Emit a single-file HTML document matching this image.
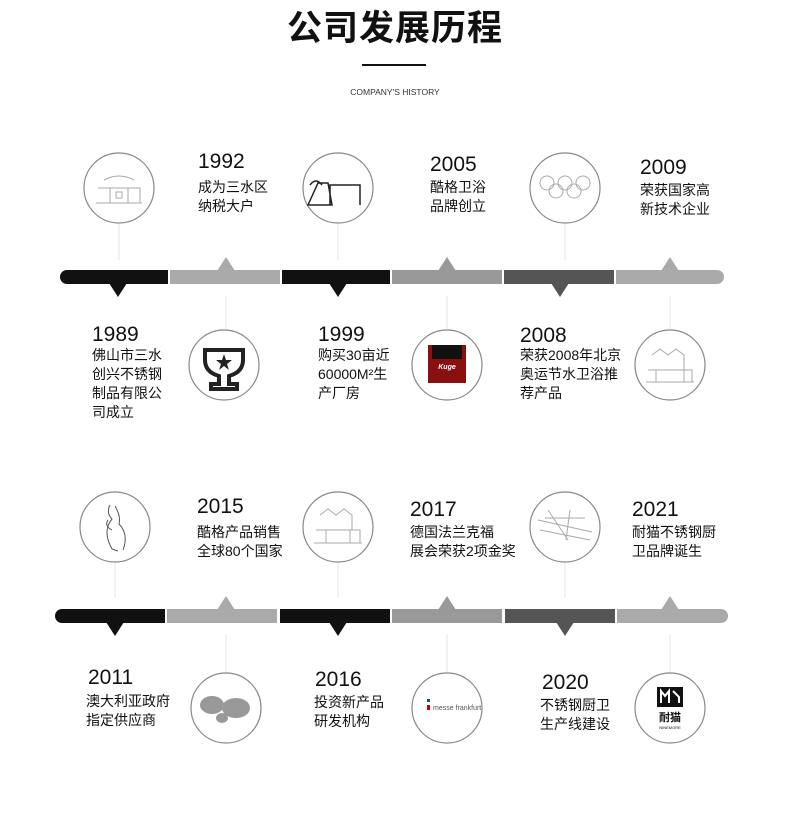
<!DOCTYPE html>
<html><head><meta charset="utf-8">
<style>
html,body{margin:0;padding:0;background:#fff;}
body{width:790px;height:820px;position:relative;overflow:hidden;font-family:"Liberation Sans","Noto Sans CJK SC",sans-serif;color:#111;}
.t{position:absolute;white-space:nowrap;}
.y{font-size:21px;line-height:22px;color:#111;}
.d{font-size:14px;line-height:19px;color:#111;}
</style></head><body>
<div class="t" style="left:0;width:790px;top:8px;text-align:center;font-size:35px;font-weight:bold;line-height:42px;letter-spacing:1px;">公司发展历程</div>
<div style="position:absolute;left:362px;top:64px;width:64px;height:2px;background:#111;"></div>
<div class="t" style="left:0;width:790px;top:87px;text-align:center;font-size:8.5px;color:#333;">COMPANY'S HISTORY</div>

<svg width="790" height="820" style="position:absolute;left:0;top:0" xmlns="http://www.w3.org/2000/svg">
<g stroke="#e4e4e4" stroke-width="1">
<line x1="119" y1="224" x2="119" y2="260"/><line x1="338" y1="224" x2="338" y2="260"/><line x1="565" y1="224" x2="565" y2="260"/>
<line x1="226" y1="296" x2="226" y2="329"/><line x1="447" y1="296" x2="447" y2="329"/><line x1="670" y1="296" x2="670" y2="329"/>
<line x1="115" y1="563" x2="115" y2="598"/><line x1="338" y1="563" x2="338" y2="598"/><line x1="565" y1="563" x2="565" y2="598"/>
<line x1="226" y1="634" x2="226" y2="672"/><line x1="447" y1="634" x2="447" y2="672"/><line x1="670" y1="634" x2="670" y2="672"/>
</g>
<!-- timeline 1 -->
<rect x="60" y="270" width="20" height="14" rx="7" fill="#111"/>
<rect x="68" y="270" width="100" height="14" fill="#111"/>
<rect x="170" y="270" width="110" height="14" fill="#aaa"/>
<rect x="282" y="270" width="108" height="14" fill="#111"/>
<rect x="392" y="270" width="110" height="14" fill="#999"/>
<rect x="504" y="270" width="110" height="14" fill="#555"/>
<rect x="616" y="270" width="100" height="14" fill="#aaa"/>
<rect x="710" y="270" width="14" height="14" rx="7" fill="#aaa"/>
<polygon points="109,283 127,283 118,297" fill="#111"/>
<polygon points="217,271 235,271 226,257" fill="#aaa"/>
<polygon points="329,283 347,283 338,297" fill="#111"/>
<polygon points="438,271 456,271 447,257" fill="#999"/>
<polygon points="551,283 569,283 560,297" fill="#555"/>
<polygon points="661,271 679,271 670,257" fill="#aaa"/>
<!-- timeline 2 -->
<rect x="55" y="609" width="20" height="14" rx="7" fill="#111"/>
<rect x="63" y="609" width="102" height="14" fill="#111"/>
<rect x="167" y="609" width="110" height="14" fill="#aaa"/>
<rect x="280" y="609" width="110" height="14" fill="#111"/>
<rect x="392" y="609" width="110" height="14" fill="#999"/>
<rect x="505" y="609" width="110" height="14" fill="#555"/>
<rect x="617" y="609" width="104" height="14" fill="#aaa"/>
<rect x="714" y="609" width="14" height="14" rx="7" fill="#aaa"/>
<polygon points="106,622 124,622 115,636" fill="#111"/>
<polygon points="217,610 235,610 226,596" fill="#aaa"/>
<polygon points="329,622 347,622 338,636" fill="#111"/>
<polygon points="438,610 456,610 447,596" fill="#999"/>
<polygon points="556,622 574,622 565,636" fill="#555"/>
<polygon points="661,610 679,610 670,596" fill="#aaa"/>

<g fill="none" stroke="#888" stroke-width="1.2">
<circle cx="119" cy="188" r="35"/><circle cx="338" cy="188" r="35"/><circle cx="565" cy="188" r="35"/>
<circle cx="224" cy="365" r="35"/><circle cx="447" cy="365" r="35"/><circle cx="670" cy="365" r="35"/>
<circle cx="115" cy="527" r="35"/><circle cx="338" cy="527" r="35"/><circle cx="565" cy="527" r="35"/>
<circle cx="226" cy="708" r="35"/><circle cx="447" cy="708" r="35"/><circle cx="670" cy="708" r="35"/>
</g>
<!-- icons -->
<g stroke="#aaa" fill="none" stroke-width="1">
<path d="M96 203 h46 M98 188 h42 v15 M104 180 q15 -8 30 0 M110 188 v15 M128 188 v15 M116 192 h6 v6 h-6z"/>
<path d="M308 205 l10 -22 h10 l4 22 z M330 205 v-20 h30 v20 M310 185 q6 -8 12 0" stroke="#222" stroke-width="1.5"/>
<circle cx="547" cy="183" r="7"/><circle cx="565" cy="183" r="7"/><circle cx="583" cy="183" r="7"/><circle cx="556" cy="191" r="7"/><circle cx="574" cy="191" r="7"/>
<path d="M646 382 h48 M648 370 h44 v12 M652 355 l8 -6 l8 6 l8 -6 l8 6 v15 M656 370 v12 M684 370 v12"/>
<path d="M110 505 q-4 8 2 14 q-10 12 0 30 l6 2 M115 506 q6 10 4 18 q10 10 4 26 M108 520 q-4 6 4 10" stroke="#555"/>
<path d="M314 543 h48 M316 530 h44 v13 M320 515 l8 -6 l8 6 l8 -6 l8 6 v15 M326 530 v13 M350 530 v13"/>
<path d="M538 520 l54 12 M540 530 l50 10 M548 510 l20 30 M570 510 l-4 30 M545 518 h40"/>
</g>
<path d="M205 350 h38 v10 q0 12 -14 16 v8 h8 v5 h-26 v-5 h8 v-8 q-14 -4 -14 -16z" fill="none" stroke="#222" stroke-width="4"/>
<polygon points="224,354 226,360 232,360 227,364 229,370 224,366 219,370 221,364 216,360 222,360" fill="#222"/>
<rect x="428" y="345" width="38" height="38" fill="#8a1010"/>
<rect x="432" y="345" width="30" height="14" fill="#111"/>
<text x="447" y="369" font-size="7" fill="#fff" text-anchor="middle" font-style="italic" font-weight="bold" font-family="Liberation Sans">Kuge</text>
<g fill="#999"><ellipse cx="212" cy="705" rx="12" ry="9"/><ellipse cx="236" cy="708" rx="14" ry="10"/><ellipse cx="222" cy="718" rx="6" ry="5"/></g>
<rect x="427" y="705" width="3" height="5" fill="#c00"/><rect x="427" y="699" width="3" height="3" fill="#24a"/>
<text x="433" y="710" font-size="7" fill="#555" font-family="Liberation Sans">messe frankfurt</text>
<rect x="657" y="687" width="26" height="20" fill="#111"/>
<path d="M661 703 v-12 l4 5 l4 -5 v12 M673 691 l6 6 v6" stroke="#fff" stroke-width="2" fill="none"/>
<text x="670" y="721" font-size="11" font-weight="bold" text-anchor="middle" fill="#111" font-family="Liberation Sans,Noto Sans CJK SC,sans-serif">耐猫</text>
<text x="670" y="729" font-size="4" text-anchor="middle" fill="#111" font-family="Liberation Sans">NINEMORE</text>
</svg>

<div class="t y" style="left:198px;top:151px;">1992</div>
<div class="t d" style="left:198px;top:178px;">成为三水区<br>纳税大户</div>
<div class="t y" style="left:430px;top:154px;">2005</div>
<div class="t d" style="left:430px;top:178px;">酷格卫浴<br>品牌创立</div>
<div class="t y" style="left:640px;top:157px;">2009</div>
<div class="t d" style="left:640px;top:181px;">荣获国家高<br>新技术企业</div>
<div class="t y" style="left:92px;top:324px;">1989</div>
<div class="t d" style="left:92px;top:346px;">佛山市三水<br>创兴不锈钢<br>制品有限公<br>司成立</div>
<div class="t y" style="left:318px;top:324px;">1999</div>
<div class="t d" style="left:318px;top:346px;">购买30亩近<br>60000M²生<br>产厂房</div>
<div class="t y" style="left:520px;top:325px;">2008</div>
<div class="t d" style="left:520px;top:346px;">荣获2008年北京<br>奥运节水卫浴推<br>荐产品</div>

<div class="t y" style="left:197px;top:496px;">2015</div>
<div class="t d" style="left:197px;top:523px;">酷格产品销售<br>全球80个国家</div>
<div class="t y" style="left:410px;top:499px;">2017</div>
<div class="t d" style="left:410px;top:523px;">德国法兰克福<br>展会荣获2项金奖</div>
<div class="t y" style="left:632px;top:499px;">2021</div>
<div class="t d" style="left:632px;top:523px;">耐猫不锈钢厨<br>卫品牌诞生</div>
<div class="t y" style="left:88px;top:667px;">2011</div>
<div class="t d" style="left:86px;top:692px;">澳大利亚政府<br>指定供应商</div>
<div class="t y" style="left:315px;top:669px;">2016</div>
<div class="t d" style="left:314px;top:693px;">投资新产品<br>研发机构</div>
<div class="t y" style="left:542px;top:672px;">2020</div>
<div class="t d" style="left:540px;top:696px;">不锈钢厨卫<br>生产线建设</div>
</body></html>
